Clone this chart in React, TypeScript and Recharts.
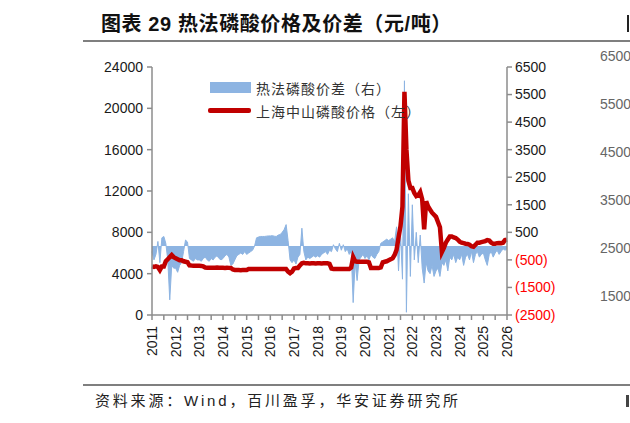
import React from "react";
import { ComposedChart, Area, Line, XAxis, YAxis, Legend } from "recharts";

const startYear = 2011;

// 上海中山磷酸价格（元/吨，左轴），月度
const price = [
  4700, 4650, 4700, 4650, 4350, 4700, 4700, 5200, 5400, 5600, 5800, 5600,
  5500, 5400, 5300, 5300, 5200, 5150, 5100, 4800, 4780, 4770, 4770, 4760,
  4760, 4750, 4700, 4600, 4580, 4580, 4580, 4570, 4580, 4600, 4580, 4570,
  4570, 4560, 4580, 4560, 4550, 4400, 4350, 4350, 4350, 4340, 4350, 4350,
  4350, 4450, 4450, 4450, 4460, 4450, 4440, 4450, 4450, 4440, 4450, 4450,
  4450, 4460, 4450, 4450, 4450, 4450, 4450, 4440, 4450, 4200, 4050, 4200,
  4500, 4550, 4550, 4800, 5000, 5050, 5000, 5000, 4980, 5000, 5000, 4980,
  5000, 5000, 4980, 5000, 5000, 5000, 4950, 4500, 4450, 4450, 4450, 4450,
  4450, 4450, 4440, 4450, 4450, 4600, 5600, 5200, 5150, 5150, 5150, 5150,
  5150, 5150, 5100, 4550, 4550, 4550, 4550, 4550, 4600, 5100, 5150, 5200,
  5300, 5400, 5500, 5800, 6300, 7500, 8600, 10500, 21600, 16000, 13000, 12300,
  12300, 11800, 11500, 11600, 11900, 11200, 8300, 11000, 10500, 10200, 9900, 9700,
  9500, 9000, 8500, 6100, 6500, 7000, 7300, 7600, 7600, 7500, 7450, 7300,
  7100, 7000, 6950, 6900, 6870, 6800, 6650, 6600, 6800, 7000, 7000, 7050,
  7100, 7150, 7250, 7200, 7000, 6900, 6900, 6950, 6970, 6950, 7000, 7250,
  7300,
];

// 热法磷酸价差（元/吨，右轴），月度
const spread = [
  -200, -500, -300, 170, -600, 300, 350, 100, -500, -1950, -700, -800,
  -800, -950, -700, -600, -200, 220, 150, -450, -500, -550, -450, -500,
  -500, -550, -450, -400, -500, -550, -450, -500, -400, -350, -450, -500,
  -450, -350, -300, -400, -700, -650, -500, -350, -300, -250, -300, -200,
  -300, -250, -200, -150, 0, 300, 330, 350, 350, 350, 360, 370,
  370, 380, 360, 350, 400, 420, 500, 600, 780, 200, -500, -600,
  -500, -650, -400, -300, 650, -200, -500, -400, -450, -400, -350, -400,
  -350, -400, -300, -250, -200, -300, -150, -200, 50, -100, -200, 100,
  -150, 50, -200, -100, -300, -200, -2050, -600, -1250, -500, -400, -300,
  -450, -350, -500, -300, -400, -450, -300, -200, 100, 150, 200, 250,
  200, 250, 300, 150, 700, -900, 500, -1200, 6000, -2400, 1900, -1100,
  1500, -500, 500, -600, 400, -800, -1340, -600, -900, -1000, -700, -1100,
  -900, -800, -1100, -600, -700, -500, -900, -400, -500, -300, -600, -400,
  -500, -300, -700, -400, -300, -500, -200, -600, -300, -200, -400, -300,
  -250, -500, -700, -300, -200, -400, -250, -150, -300, -200, -100, -150,
  -100,
];

const yearLabels = [
  2011, 2012, 2013, 2014, 2015, 2016, 2017, 2018, 2019, 2020, 2021, 2022,
  2023, 2024, 2025, 2026,
];
const leftTicks = [0, 4000, 8000, 12000, 16000, 20000, 24000];
const rightTicks = [-2500, -1500, -500, 500, 1500, 2500, 3500, 4500, 5500, 6500];
const neighbourTicks = ["6500", "5500", "4500", "3500", "2500", "1500"];

const months = price.map((_, i) => startYear + i / 12);
const xTicks = yearLabels.flatMap((y) => (y < 2026 ? [y, y + 0.5] : [y]));
const data = months.map((t, i) => ({ t, price: price[i], spread: spread[i] }));

const axisColor = "#8c8c8c";
const font = "'Liberation Sans', Arial, 'Noto Sans CJK SC', sans-serif";

const YearTick = (props: any) => {
  const { x, y, payload } = props;
  if (!Number.isInteger(payload.value)) return <g />;
  const yy = y + 4;
  return (
    <text
      x={x}
      y={yy}
      dy="0.35em"
      transform={`rotate(-90 ${x} ${yy})`}
      textAnchor="end"
      fontSize={14}
      fill="#1a1a1a"
    >
      {payload.value}
    </text>
  );
};

const RightTick = (props: any) => {
  const { x, y, payload } = props;
  const v = payload.value;
  const neg = v < 0;
  return (
    <text x={x} y={y} dy="0.35em" textAnchor="start" fontSize={14} fill={neg ? "#ff0000" : "#1a1a1a"}>
      {neg ? `(${-v})` : v}
    </text>
  );
};

// area first, then the line, as in the source chart
const legendContent = (props: any) => {
  const items = [...(props.payload || [])].sort(
    (a: any, b: any) => (a.type === "line" ? 1 : 0) - (b.type === "line" ? 1 : 0)
  );
  return (
    <div style={{ fontFamily: "'Noto Sans CJK SC', sans-serif" }}>
      {items.map((entry: any) => (
        <div key={entry.value} style={{ display: "flex", alignItems: "center", height: 23 }}>
          {entry.type === "line" ? (
            <div style={{ width: 43, height: 5, background: entry.color, borderRadius: 2 }} />
          ) : (
            <div style={{ width: 41, height: 11, background: entry.color, marginLeft: 2 }} />
          )}
          <span style={{ marginLeft: 5, fontSize: 14, letterSpacing: 1, color: "#333" }}>
            {entry.value}
          </span>
        </div>
      ))}
    </div>
  );
};

export default function App() {
  return (
    <div
      style={{
        position: "absolute",
        left: 0,
        top: 0,
        width: 630,
        height: 423,
        overflow: "hidden",
        background: "#fff",
        fontFamily: font,
      }}
    >
      <ComposedChart
        width={630}
        height={423}
        data={data}
        margin={{ top: 67, right: 63, bottom: 58, left: 92 }}
        style={{ fontFamily: font }}
      >
        <XAxis
          dataKey="t"
          type="number"
          domain={[2011, 2026]}
          ticks={xTicks}
          interval={0}
          height={50}
          tickSize={5}
          tick={<YearTick />}
          axisLine={{ stroke: axisColor, strokeWidth: 1.5 }}
          tickLine={{ stroke: axisColor, strokeWidth: 1.5 }}
        />
        <YAxis
          yAxisId="left"
          domain={[0, 24000]}
          ticks={leftTicks}
          interval={0}
          width={60}
          tickSize={5}
          tickMargin={4}
          tick={{ fontSize: 14, fill: "#1a1a1a" }}
          axisLine={{ stroke: axisColor, strokeWidth: 1.5 }}
          tickLine={{ stroke: axisColor, strokeWidth: 1.5 }}
        />
        <YAxis
          yAxisId="right"
          orientation="right"
          domain={[-2500, 6500]}
          ticks={rightTicks}
          interval={0}
          width={60}
          tickSize={5}
          tickMargin={3}
          tick={<RightTick />}
          axisLine={{ stroke: axisColor, strokeWidth: 1.5 }}
          tickLine={{ stroke: axisColor, strokeWidth: 1.5 }}
        />
        <Legend
          layout="vertical"
          align="center"
          verticalAlign="middle"
          content={legendContent}
          wrapperStyle={{ left: 208, top: 76, width: 260 }}
        />
        <Area
          yAxisId="right"
          dataKey="spread"
          name="热法磷酸价差（右）"
          type="linear"
          baseValue={0}
          fill="#8db4e2"
          fillOpacity={1}
          stroke="#8db4e2"
          strokeWidth={1}
          legendType="rect"
          dot={false}
          activeDot={false}
          isAnimationActive={false}
        />
        <Line
          yAxisId="left"
          dataKey="price"
          name="上海中山磷酸价格（左）"
          type="linear"
          stroke="#c00000"
          strokeWidth={4.5}
          legendType="line"
          dot={false}
          activeDot={false}
          isAnimationActive={false}
        />
      </ComposedChart>

      <div
        style={{
          position: "absolute",
          left: 101,
          top: 12,
          fontSize: 20,
          lineHeight: "24px",
          fontWeight: 700,
          letterSpacing: 0.6,
          color: "#111",
          whiteSpace: "nowrap",
        }}
      >
        图表 29 热法磷酸价格及价差（元/吨）
      </div>
      <div style={{ position: "absolute", left: 627, top: 15, width: 2, height: 17, background: "#222" }} />
      <div style={{ position: "absolute", left: 83, top: 40, width: 547, height: 2, background: "#7f7f7f" }} />

      {neighbourTicks.map((t, i) => (
        <div
          key={t}
          style={{
            position: "absolute",
            left: 600,
            top: 48 + i * 48,
            fontSize: 14,
            lineHeight: "16px",
            color: "#666",
          }}
        >
          {t}
        </div>
      ))}

      <div style={{ position: "absolute", left: 83, top: 384, width: 547, height: 2, background: "#7f7f7f" }} />
      <div
        style={{
          position: "absolute",
          left: 95,
          top: 392,
          fontSize: 15,
          lineHeight: "18px",
          letterSpacing: 2.8,
          color: "#222",
          whiteSpace: "nowrap",
        }}
      >
        资料来源：Wind，百川盈孚，华安证券研究所
      </div>
      <div style={{ position: "absolute", left: 626, top: 395, width: 3, height: 12, background: "#444" }} />
    </div>
  );
}
